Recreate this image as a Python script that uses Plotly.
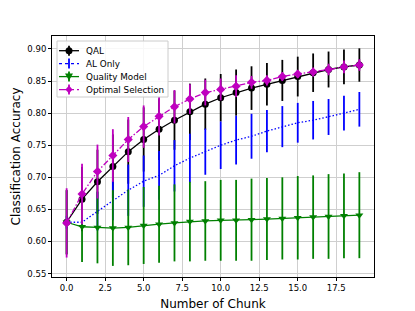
import plotly.graph_objects as go

chunks = list(range(20))

qal_mean = [0.630, 0.666, 0.693, 0.717, 0.740, 0.759, 0.775, 0.789, 0.802, 0.814,
            0.824, 0.832, 0.839, 0.845, 0.851, 0.857, 0.863, 0.868, 0.872, 0.875]
qal_err = [0.050, 0.050, 0.050, 0.050, 0.050, 0.050, 0.048, 0.046, 0.044, 0.040,
           0.037, 0.036, 0.034, 0.033, 0.032, 0.031, 0.030, 0.028, 0.027, 0.026]

al_mean = [0.630, 0.630, 0.647, 0.664, 0.680, 0.694, 0.703, 0.718, 0.730, 0.740,
           0.750, 0.758, 0.764, 0.772, 0.779, 0.785, 0.789, 0.794, 0.800, 0.806]
al_err = [0.010, 0.010, 0.030, 0.031, 0.040, 0.040, 0.038, 0.040, 0.038, 0.036,
          0.037, 0.038, 0.035, 0.033, 0.032, 0.031, 0.030, 0.028, 0.027, 0.027]

qm_mean = [0.630, 0.623, 0.622, 0.621, 0.622, 0.625, 0.627, 0.629, 0.631, 0.632,
           0.633, 0.633, 0.634, 0.635, 0.636, 0.637, 0.638, 0.639, 0.640, 0.641]
qm_err = [0.050, 0.055, 0.056, 0.059, 0.059, 0.060, 0.060, 0.060, 0.062, 0.062,
          0.063, 0.063, 0.064, 0.064, 0.064, 0.065, 0.065, 0.066, 0.066, 0.067]

opt_mean = [0.629, 0.674, 0.709, 0.734, 0.759, 0.779, 0.795, 0.810, 0.822, 0.832,
            0.837, 0.842, 0.848, 0.851, 0.857, 0.861, 0.864, 0.868, 0.872, 0.875]
opt_err = [0.054, 0.047, 0.042, 0.041, 0.035, 0.033, 0.030, 0.026, 0.023, 0.020,
           0.017, 0.017, 0.010, 0.008, 0.007, 0.006, 0.007, 0.009, 0.010, 0.009]

series_names = ["QAL", "AL Only", "Quality Model", "Optimal Selection"]

x_title = "Number of Chunk"
y_title = "Classification Accuracy"

# styling
W, H = 415, 311
ML, MR, MT, MB = 52, 41, 36, 34
PW, PH = W - ML - MR, H - MT - MB

styles = [
    dict(color="black", dash="solid", symbol="circle", marker=True),
    dict(color="#0000ff", dash="1.5px,2px", symbol="circle", marker=False),
    dict(color="#008000", dash="solid", symbol="triangle-down", marker=True),
    dict(color="#bf00bf", dash="6px,2px,1.5px,2px", symbol="diamond", marker=True),
]

fig = go.Figure()

for name, mean, err, st in zip(series_names,
                               [qal_mean, al_mean, qm_mean, opt_mean],
                               [qal_err, al_err, qm_err, opt_err],
                               styles):
    fig.add_trace(go.Scatter(
        x=chunks, y=mean, name=name,
        mode="lines+markers" if st["marker"] else "lines",
        line=dict(color=st["color"], width=1.3, dash=st["dash"]),
        marker=dict(color=st["color"], symbol=st["symbol"], size=7,
                    line=dict(width=0)),
        error_y=dict(type="data", array=err, visible=True, color=st["color"],
                     thickness=1.8, width=0),
        showlegend=False,
    ))

# hand-built legend (matplotlib-like compact box)
def px_x(p):
    return (p - ML) / PW

def px_y(p):
    return (H - MB - p) / PH

shapes = []
annotations = []
shapes.append(dict(type="rect", xref="paper", yref="paper",
                   x0=px_x(57), x1=px_x(168), y0=px_y(97), y1=px_y(41),
                   fillcolor="rgba(255,255,255,0.85)",
                   line=dict(color="#cccccc", width=1), layer="above"))
rows = [50.7, 63.6, 76.6, 89.6]
hx0, hx1, hxm = 59, 79, 69
for name, st, ry in zip(series_names, styles, rows):
    c = st["color"]
    dash = {"solid": "solid", "1.5px,2px": "dot", "6px,2px,1.5px,2px": "dashdot"}[st["dash"]]
    shapes.append(dict(type="line", xref="paper", yref="paper",
                       x0=px_x(hx0), x1=px_x(hx1), y0=px_y(ry), y1=px_y(ry),
                       line=dict(color=c, width=1.3, dash=dash), layer="above"))
    shapes.append(dict(type="line", xref="paper", yref="paper",
                       x0=px_x(hxm), x1=px_x(hxm), y0=px_y(ry - 5), y1=px_y(ry + 5),
                       line=dict(color=c, width=1.8), layer="above"))
    if st["marker"]:
        r = 3.5
        if st["symbol"] == "circle":
            shapes.append(dict(type="circle", xref="paper", yref="paper",
                               x0=px_x(hxm - r), x1=px_x(hxm + r),
                               y0=px_y(ry + r), y1=px_y(ry - r),
                               fillcolor=c, line=dict(width=0), layer="above"))
        elif st["symbol"] == "triangle-down":
            path = "M {} {} L {} {} L {} {} Z".format(
                px_x(hxm - 4), px_y(ry - 3), px_x(hxm + 4), px_y(ry - 3),
                px_x(hxm), px_y(ry + 4))
            shapes.append(dict(type="path", xref="paper", yref="paper", path=path,
                               fillcolor=c, line=dict(width=0), layer="above"))
        else:
            path = "M {} {} L {} {} L {} {} L {} {} Z".format(
                px_x(hxm), px_y(ry - 4), px_x(hxm + 3.5), px_y(ry),
                px_x(hxm), px_y(ry + 4), px_x(hxm - 3.5), px_y(ry))
            shapes.append(dict(type="path", xref="paper", yref="paper", path=path,
                               fillcolor=c, line=dict(width=0), layer="above"))
    annotations.append(dict(xref="paper", yref="paper", x=px_x(84), y=px_y(ry),
                            xanchor="left", yanchor="middle", showarrow=False,
                            text=name,
                            font=dict(family="DejaVu Sans", size=8.8, color="black")))

axis_common = dict(
    showline=True, linecolor="black", linewidth=1, mirror=True,
    ticks="outside", ticklen=3, tickcolor="black", tickwidth=1,
    showgrid=True, gridcolor="#cfcfcf", gridwidth=1.2,
    zeroline=False, automargin=False,
    tickfont=dict(family="DejaVu Sans", size=8.5, color="black"),
)

fig.update_xaxes(
    range=[-0.95, 19.95], tick0=0, dtick=2.5, tickformat=".1f",
    title=dict(text=x_title, font=dict(family="DejaVu Sans", size=12, color="black"), standoff=10),
    **axis_common,
)
fig.update_yaxes(
    range=[0.5447, 0.9202], tick0=0.55, dtick=0.05, tickformat=".2f",
    title=dict(text=y_title, font=dict(family="DejaVu Sans", size=12, color="black"), standoff=4),
    **axis_common,
)

fig.update_layout(
    width=W, height=H,
    margin=dict(l=ML, r=MR, t=MT, b=MB),
    paper_bgcolor="white", plot_bgcolor="white",
    showlegend=False,
    shapes=shapes, annotations=annotations,
    font=dict(family="DejaVu Sans"),
)

fig.write_html("out.html", config={"displayModeBar": False},
               post_script="document.body.style.margin='0';")
